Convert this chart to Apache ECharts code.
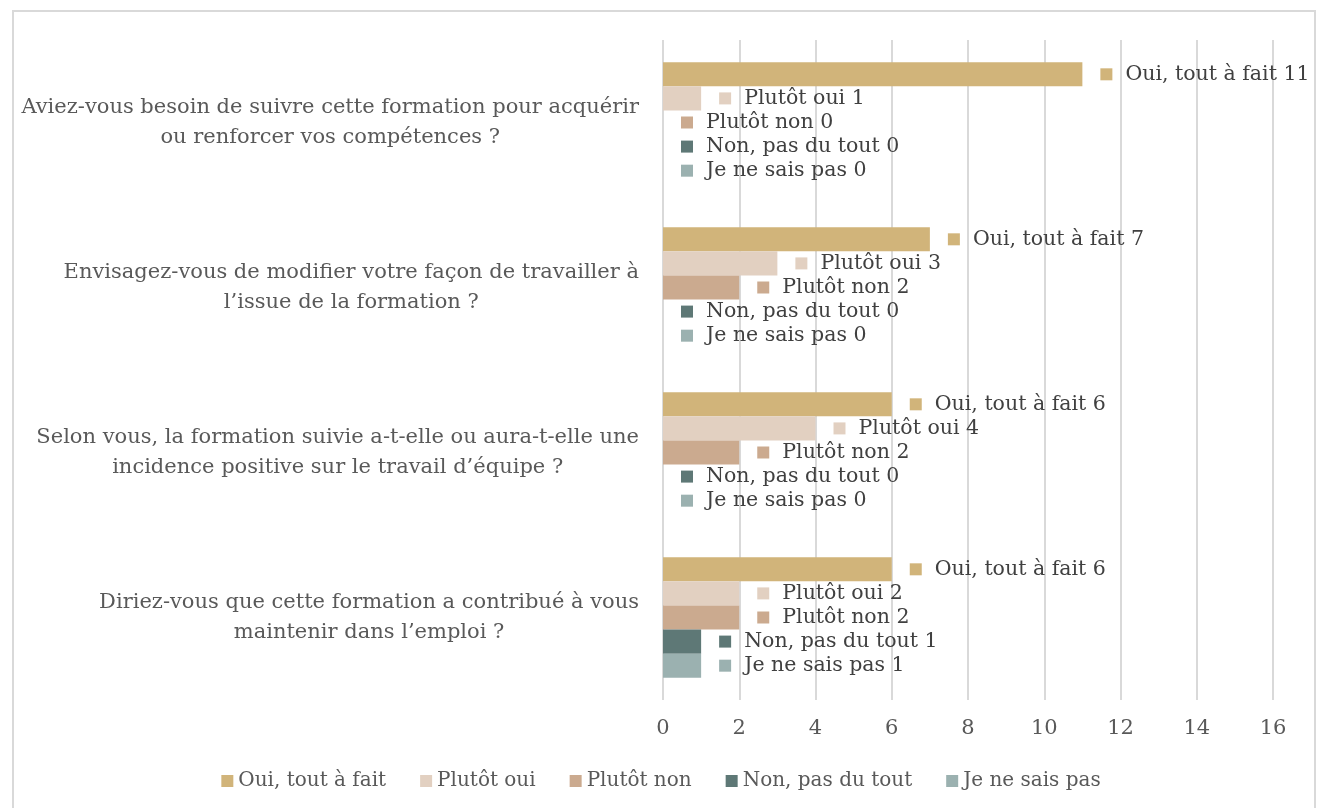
<!DOCTYPE html>
<html>
<head>
<meta charset="utf-8">
<script src="https://cdn.jsdelivr.net/npm/echarts@6/dist/echarts.min.js"></script>
<style>
  body { margin: 0; background: #fff; overflow: hidden; }
  #chart { width: 1322px; height: 808px; }
  #frame { position: absolute; left: 12px; top: 10px; width: 1300px; height: 830px;
           border: 2px solid #d9d9d9; pointer-events: none; }
</style>
</head>
<body>
<div id="chart"></div>
<div id="frame"></div>
<script>
// questions (top to bottom)
var questions = [
    "Aviez-vous besoin de suivre cette formation pour acquérir\nou renforcer vos compétences ?",
    "Envisagez-vous de modifier votre façon de travailler à\nl’issue de la formation ?",
    "Selon vous, la formation suivie a-t-elle ou aura-t-elle une\nincidence positive sur le travail d’équipe ?",
    "Diriez-vous que cette formation a contribué à vous\nmaintenir dans l’emploi ?"
];
var seriesNames = ["Oui, tout à fait", "Plutôt oui", "Plutôt non", "Non, pas du tout", "Je ne sais pas"];
var colors = ["#d1b47a", "#e2d0c1", "#cbaa8f", "#5e7876", "#9bb1b0"];

var ouiTout   = [11, 7, 6, 6];
var plutotOui = [1, 3, 4, 2];
var plutotNon = [0, 2, 2, 2];
var nonPas    = [0, 0, 0, 1];
var jeNeSais  = [0, 0, 0, 1];
var values = [ouiTout, plutotOui, plutotNon, nonPas, jeNeSais];

var xTicks = { min: 0, max: 16, interval: 2 };

var font = "'DejaVu Serif', Georgia, serif";

var series = seriesNames.map(function (name, i) {
    return {
        name: name,
        type: 'bar',
        data: values[i],
        barGap: '0%',
        barCategoryGap: '27%',
        itemStyle: { color: colors[i] },
        label: {
            show: true,
            position: 'right',
            distance: 18,
            fontFamily: font,
            fontSize: 20.5,
            color: '#404040',
            formatter: '{sq| }  {a} {c}',
            rich: {
                sq: { width: 12, height: 12, backgroundColor: colors[i] }
            }
        }
    };
});

var chart = echarts.init(document.getElementById('chart'));
chart.setOption({
    animation: false,
    textStyle: { fontFamily: font },
    grid: { left: 663, right: 49, top: 40, bottom: 108 },
    legend: {
        data: seriesNames,
        left: 'center',
        top: 766,
        itemWidth: 12,
        itemHeight: 12,
        itemGap: 34,
        icon: 'rect',
        textStyle: { fontFamily: font, fontSize: 20, color: '#595959' }
    },
    xAxis: {
        type: 'value',
        min: xTicks.min,
        max: xTicks.max,
        interval: xTicks.interval,
        axisLine: { show: false },
        axisTick: { show: false },
        axisLabel: { fontFamily: font, fontSize: 21, color: '#595959', margin: 18 },
        splitLine: { lineStyle: { color: '#d9d9d9', width: 2 } }
    },
    yAxis: {
        type: 'category',
        inverse: true,
        data: questions,
        axisLine: { show: false },
        axisTick: { show: false },
        axisLabel: {
            margin: 24,
            fontFamily: font,
            fontSize: 21,
            color: '#595959',
            lineHeight: 30,
            formatter: function (v) {
                return v.split('\n').map(function (s) { return '{q|' + s + '}'; }).join('\n');
            },
            rich: {
                q: { align: 'center', fontFamily: font, fontSize: 21, color: '#595959', lineHeight: 30 }
            }
        }
    },
    series: series
});
</script>
</body>
</html>
